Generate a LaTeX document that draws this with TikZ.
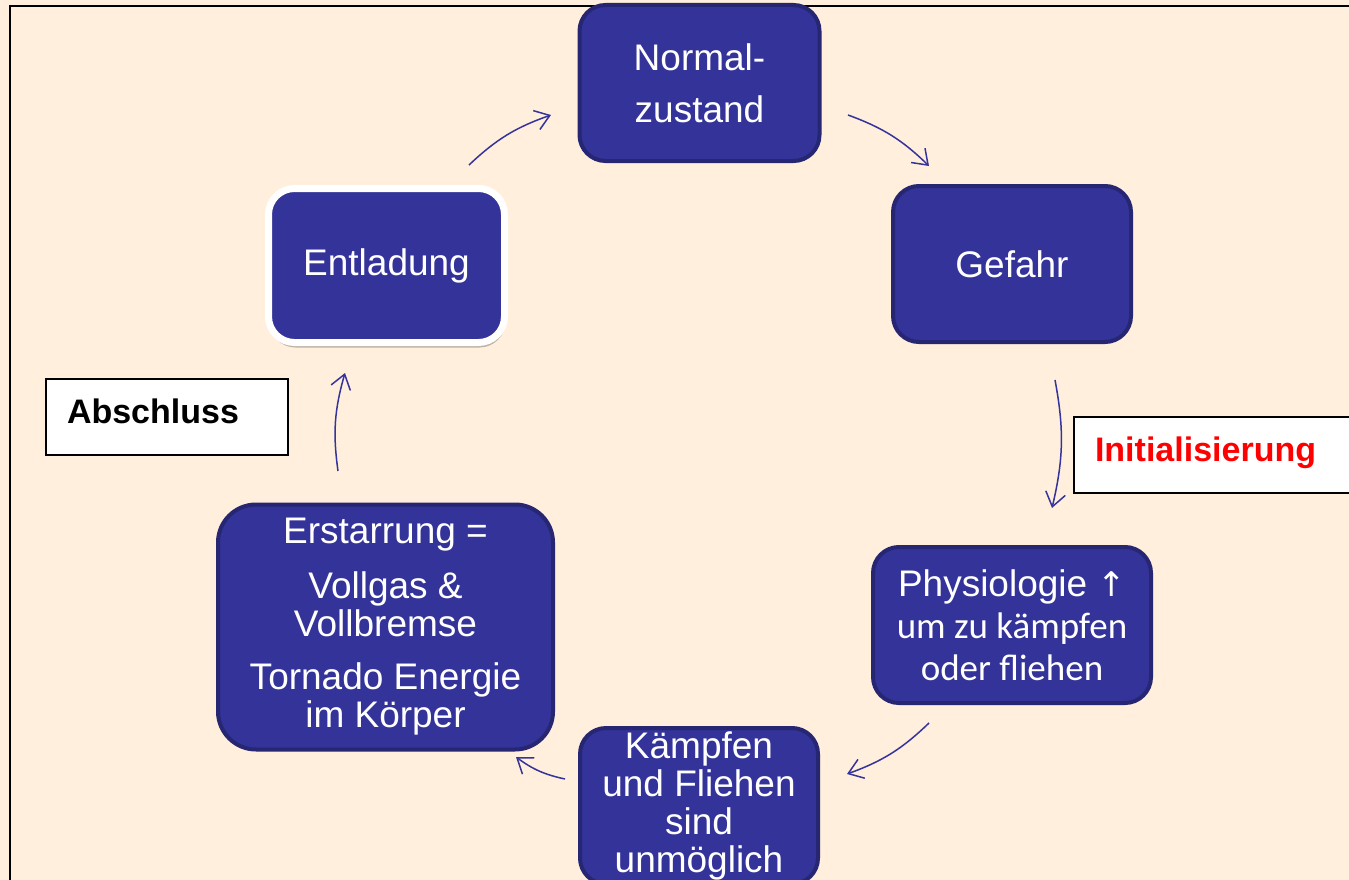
\documentclass[tikz,border=0pt]{standalone}
\usepackage{fontspec}
\setmainfont{Liberation Sans}
\newfontfamily\carlito{Carlito}
\newfontfamily\dejavu{DejaVu Sans}
\usetikzlibrary{arrows.meta,shadows}
\definecolor{bgc}{HTML}{FFEFDC}
\definecolor{boxfill}{HTML}{333399}
\definecolor{boxline}{HTML}{262673}
\definecolor{arrc}{HTML}{34349C}
\tikzset{
  cyclebox/.style={rectangle, rounded corners=26, fill=boxfill, draw=boxline, line width=4,
    text=white, align=center, inner sep=0pt, outer sep=0pt,
    font=\fontsize{37}{38}\selectfont},
  labelbox/.style={rectangle, draw=black, line width=2, fill=white, anchor=north west,
    inner ysep=0pt, inner xsep=21pt, align=left, text height=25, text depth=13,
    font=\fontsize{34}{36}\selectfont\bfseries},
  cyclearrow/.style={draw=arrc, line width=1.5, -{Straight Barb[length=14pt,width=20pt]}, bend left=12}
}
\begin{document}
\begin{tikzpicture}[x=1pt,y=-1pt]
\fill[bgc] (0,0) rectangle (1349,880);
\useasboundingbox (0,0) rectangle (1349,880);
% frame
\draw[black, line width=2.5] (10,885) -- (10,6) -- (1355,6);

% cycle boxes
\node[cyclebox, minimum width=240, minimum height=156] (normal) at (699.5,83) {Normal-\\[14pt]zustand};
\node[cyclebox, minimum width=238, minimum height=156] (gefahr) at (1012,264) {Gefahr};
\node[cyclebox, draw=white, line width=7, minimum width=236, minimum height=154,
      drop shadow={shadow xshift=1pt, shadow yshift=-5pt, opacity=.25, fill=black}] (entladung) at (386.5,265.5) {Entladung};
\node[cyclebox, minimum width=278, minimum height=156, font=\fontsize{37}{42}\selectfont] (physio) at (1012,625)
  {Physiologie {\dejavu\fontsize{34}{42}\selectfont ↑}\\{\carlito um zu kämpfen}\\{\carlito oder fliehen}};
\node[cyclebox, minimum width=238, minimum height=156] (kaempfen) at (699,806)
  {Kämpfen\\und Fliehen\\sind\\unmöglich};
\node[cyclebox, rounded corners=38, minimum width=335, minimum height=245] (erstarrung) at (385.5,627)
  {Erstarrung =\\[17pt]Vollgas \&\\Vollbremse\\[15pt]Tornado Energie\\im Körper};

% labels
\node[labelbox, minimum width=242, minimum height=76, text width=200] (abschluss) at (45,378) {Abschluss};
\node[labelbox, minimum width=290, minimum height=76, text width=248, text=red] (init) at (1073,416) {Initialisierung};

% arrow end points
\coordinate (a1s) at (469,165); \coordinate (a1e) at (551,115);
\coordinate (a2s) at (848,115); \coordinate (a2e) at (929,166);
\coordinate (a3s) at (1055,380); \coordinate (a3e) at (1052,508);
\coordinate (a4s) at (929,723); \coordinate (a4e) at (847,774);
\coordinate (a5s) at (565,779); \coordinate (a5e) at (516,757);
\coordinate (a6s) at (338,471); \coordinate (a6e) at (345,373);

\draw[cyclearrow] (a1s) to (a1e);
\draw[cyclearrow] (a2s) to (a2e);
\draw[cyclearrow] (a3s) to (a3e);
\draw[cyclearrow] (a4s) to (a4e);
\draw[cyclearrow] (a5s) to (a5e);
\draw[cyclearrow] (a6s) to (a6e);
\end{tikzpicture}
\end{document}
